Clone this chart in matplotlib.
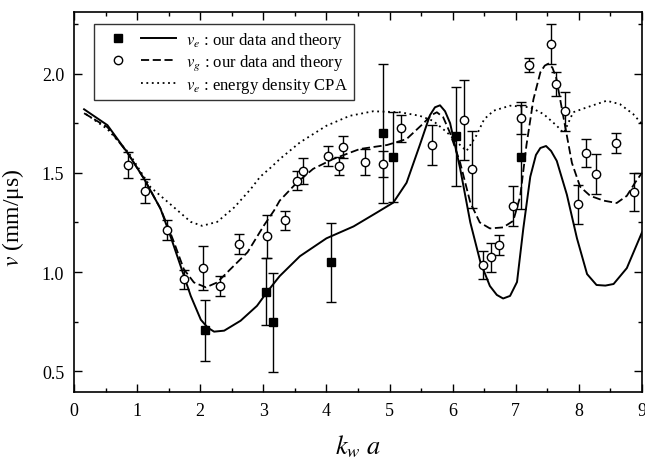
import matplotlib
matplotlib.use("Agg")
import matplotlib.pyplot as plt
from matplotlib.lines import Line2D
from matplotlib.legend_handler import HandlerTuple
from matplotlib.ticker import MultipleLocator, FormatStrFormatter

plt.rcParams['font.family'] = ['Liberation Serif', 'DejaVu Serif']
plt.rcParams['mathtext.fontset'] = 'stix'

# v_e theory (solid)
solid_x = [0.16, 0.53, 0.85, 1.11, 1.37, 1.53, 1.69, 1.85, 2.01, 2.12, 2.22, 2.38, 2.64, 2.90, 3.06,
           3.26, 3.58, 4.0, 4.43, 4.80, 5.06, 5.27, 5.48, 5.64, 5.72, 5.80, 5.88, 5.96, 6.12, 6.28,
           6.44, 6.59, 6.70, 6.80, 6.91, 7.02, 7.12, 7.23, 7.32, 7.39, 7.48, 7.56, 7.65, 7.81, 7.97,
           8.13, 8.28, 8.42, 8.55, 8.76, 9.0]
solid_y = [1.82, 1.74, 1.60, 1.47, 1.32, 1.18, 1.03, 0.88, 0.76, 0.72, 0.70, 0.705, 0.755, 0.83, 0.90,
           0.98, 1.08, 1.17, 1.23, 1.30, 1.35, 1.45, 1.64, 1.79, 1.83, 1.84, 1.81, 1.75, 1.52, 1.25,
           1.05, 0.93, 0.885, 0.867, 0.88, 0.95, 1.22, 1.48, 1.59, 1.625, 1.635, 1.61, 1.56, 1.39, 1.17,
           0.99, 0.935, 0.932, 0.94, 1.02, 1.20]

# v_g theory (dashed)
dashed_x = [0.16, 0.53, 0.85, 1.11, 1.37, 1.50, 1.585, 1.74, 1.90, 2.09, 2.27, 2.48, 2.75, 3.01, 3.17,
            3.26, 3.53, 3.79, 4.11, 4.53, 4.96, 5.27, 5.54, 5.66, 5.75, 5.85, 5.96, 6.12, 6.28, 6.43,
            6.59, 6.80, 6.96, 7.07, 7.17, 7.28, 7.39, 7.46, 7.52, 7.58, 7.64, 7.75, 7.89, 8.02, 8.18,
            8.39, 8.60, 8.76, 8.89, 9.0]
dashed_y = [1.80, 1.73, 1.60, 1.47, 1.32, 1.22, 1.15, 1.015, 0.948, 0.923, 0.948, 1.015, 1.10, 1.235, 1.31,
            1.36, 1.45, 1.52, 1.57, 1.62, 1.64, 1.67, 1.75, 1.79, 1.805, 1.78, 1.70, 1.55, 1.35, 1.25,
            1.22, 1.225, 1.258, 1.38, 1.64, 1.87, 2.006, 2.04, 2.05, 2.03, 1.98, 1.79, 1.55, 1.43, 1.384,
            1.36, 1.348, 1.384, 1.45, 1.50]

# v_e energy density CPA (dotted)
dotted_x = [0.19, 0.53, 0.87, 1.215, 1.585, 1.85, 2.03, 2.27, 2.54, 2.80, 2.95, 3.12, 3.26, 3.58, 4.0,
            4.37, 4.74, 5.17, 5.48, 5.69, 5.91, 6.05, 6.22, 6.38, 6.50, 6.65, 6.91, 7.23, 7.44, 7.65,
            7.76, 7.91, 8.13, 8.44, 8.65, 8.86, 9.0]
dotted_y = [1.796, 1.72, 1.60, 1.427, 1.326, 1.253, 1.233, 1.253, 1.326, 1.418, 1.48, 1.527, 1.569, 1.653, 1.737,
            1.787, 1.81, 1.805, 1.787, 1.762, 1.704, 1.66, 1.61, 1.69, 1.77, 1.813, 1.838, 1.83, 1.796, 1.737,
            1.70, 1.805, 1.83, 1.863, 1.846, 1.796, 1.746]

# v_g data (open circles)
vg_x = [0.86, 1.125, 1.47, 1.75, 2.04, 2.32, 2.61, 3.06, 3.34, 3.54, 3.63, 4.03, 4.2, 4.26, 4.61, 4.90,
        5.18, 5.68, 6.18, 6.31, 6.48, 6.61, 6.74, 6.96, 7.08, 7.21, 7.56, 7.63, 7.78, 7.98, 8.12, 8.27,
        8.59, 8.87]
vg_y = [1.54, 1.41, 1.21, 0.963, 1.02, 0.93, 1.14, 1.18, 1.26, 1.46, 1.51, 1.586, 1.535, 1.63, 1.556, 1.546,
        1.724, 1.64, 1.767, 1.517, 1.037, 1.074, 1.136, 1.334, 1.776, 2.043, 2.149, 1.947, 1.81, 1.341, 1.60, 1.495,
        1.65, 1.404]
vg_err = [0.065, 0.06, 0.05, 0.05, 0.11, 0.048, 0.05, 0.11, 0.05, 0.048, 0.065, 0.05, 0.047, 0.055, 0.065, 0.065,
          0.067, 0.1, 0.2, 0.195, 0.07, 0.073, 0.05, 0.1, 0.08, 0.035, 0.1, 0.062, 0.097, 0.1, 0.07, 0.1,
          0.05, 0.097]

# v_e data (filled squares)
ve_x = [2.08, 3.05, 3.16, 4.08, 4.90, 5.06, 6.06, 7.08]
ve_y = [0.706, 0.901, 0.747, 1.049, 1.70, 1.58, 1.684, 1.58]
ve_err = [0.153, 0.168, 0.25, 0.2, 0.35, 0.225, 0.25, 0.26]

x_ticks = [0, 1, 2, 3, 4, 5, 6, 7, 8, 9]
y_ticks = [0.5, 1.0, 1.5, 2.0]

fig = plt.figure(figsize=(6.45, 4.64), dpi=100)
ax = fig.add_axes([0.1147, 0.153, 0.8806, 0.819])

lw = 1.3
ln_solid, = ax.plot(solid_x, solid_y, color='black', lw=1.4, ls='-')
ln_dash, = ax.plot(dashed_x, dashed_y, color='black', lw=lw, ls=(0, (4.5, 2.0)))
ln_dot, = ax.plot(dotted_x, dotted_y, color='black', lw=1.3, ls=(0, (1.0, 2.0)))

ax.errorbar(ve_x, ve_y, yerr=ve_err, fmt='s', color='black', mfc='black', mec='black',
            ms=5.5, elinewidth=1.0, capsize=3.3, capthick=1.0, zorder=4)
ax.errorbar(vg_x, vg_y, yerr=vg_err, fmt='o', color='black', mfc='white', mec='black',
            ms=6, mew=1.0, elinewidth=1.0, capsize=3.3, capthick=1.0, zorder=5)

ax.set_xlim(0, 9)
ax.set_ylim(0.396, 2.31)
ax.set_xticks(x_ticks)
ax.set_yticks(y_ticks)
ax.xaxis.set_minor_locator(MultipleLocator(0.5))
ax.yaxis.set_minor_locator(MultipleLocator(0.25))
ax.yaxis.set_major_formatter(FormatStrFormatter('%.1f'))
ax.tick_params(which='both', direction='in', top=True, right=True, width=1.0, labelsize=13, pad=7)
ax.tick_params(which='major', length=6)
ax.tick_params(which='minor', length=3)
for sp in ax.spines.values():
    sp.set_linewidth(1.2)

ax.set_xlabel(r'$k_{w}\ a$', fontsize=19, labelpad=10)
ax.set_ylabel(r'$v$ (mm/μs)', fontsize=17)
ax.yaxis.set_label_coords(-0.085, 0.46)

sq = Line2D([], [], marker='s', color='black', ls='none', ms=5.5)
ci = Line2D([], [], marker='o', mfc='white', mec='black', ls='none', ms=6, mew=1.0)
blank = Line2D([], [], ls='none', marker='none')
hl_solid = Line2D([], [], color='black', lw=1.4, ls='-')
hl_dash = Line2D([], [], color='black', lw=lw, ls=(0, (4.5, 2.0)))
hl_dot = Line2D([], [], color='black', lw=1.3, ls=(0, (1.0, 2.0)))

leg = ax.legend([(sq, hl_solid), (ci, hl_dash), (blank, hl_dot)],
                [r'$v_e$ : our data and theory', r'$v_g$ : our data and theory',
                 r'$v_e$ : energy density CPA'],
                handler_map={tuple: HandlerTuple(ndivide=None, pad=0.3)},
                loc='upper left', bbox_to_anchor=(0.035, 0.968), borderaxespad=0,
                fontsize=12, handlelength=4.6, handletextpad=0.6, labelspacing=0.15,
                frameon=True, fancybox=False, edgecolor='black', borderpad=0.35)
leg.get_frame().set_linewidth(1.0)

fig.savefig('out.png', dpi=100)
